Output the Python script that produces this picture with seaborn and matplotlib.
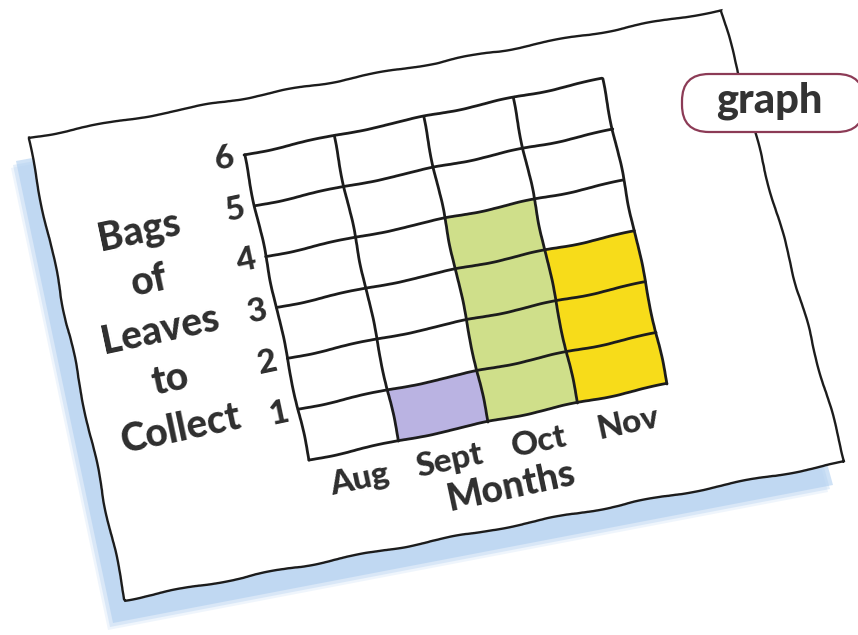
import numpy as np
import matplotlib
matplotlib.use("Agg")
import matplotlib.pyplot as plt
from matplotlib.patches import Polygon, FancyBboxPatch
from matplotlib.transforms import Affine2D
import seaborn as sns

# data
months = ["Aug", "Sept", "Oct", "Nov"]
bags = [0, 1, 4, 3]
bar_colors = ["#ffffff", "#bab3e2", "#cfdf8a", "#f7dc1a"]
y_ticks = [1, 2, 3, 4, 5, 6]
y_label_lines = ["Bags", "of", "Leaves", "to", "Collect"]
x_title = "Months"
tag_text = "graph"

sns.set_style("white")
plt.rcParams["font.family"] = ["Lato", "DejaVu Sans"]

ink = "#1c1c1c"
text_col = "#2e2e2e"
tilt = 12  # the card is drawn turned a little

fig = plt.figure(figsize=(8.58, 6.35), dpi=100)

# paper card behind the chart, in pixel coordinates
bg = fig.add_axes([0, 0, 1, 1])
bg.set_xlim(0, 858)
bg.set_ylim(635, 0)
bg.axis("off")

card = np.array([[28, 138], [721, 10], [845, 462], [125, 600]])
for off, a in [((-17, 30), 0.2), ((-15, 27), 0.35), ((-12, 23), 0.6)]:
    bg.add_patch(Polygon(card + np.array(off), closed=True, fc="#b0cff0",
                         ec="none", alpha=a))
paper = Polygon(card, closed=True, fc="white", ec=ink, lw=1.7)
paper.set_sketch_params(1.0, 120, 3)
bg.add_patch(paper)

tag = FancyBboxPatch((682, 74), 182, 58, boxstyle="round,pad=0,rounding_size=27",
                     fc="white", ec="#8c3b56", lw=1.6)
bg.add_patch(tag)
bg.text(769, 101, tag_text, ha="center", va="center", fontsize=30,
        fontweight="black", color="#333333")

# the bar chart on a grid
ax = fig.add_axes([0.3176, 0.330, 0.4266, 0.4913])
sns.barplot(x=months, y=bags, hue=months, palette=bar_colors, legend=False,
            width=1, saturation=1, edgecolor="none", ax=ax)
n = len(months)
top = max(y_ticks)
ax.set_xlim(-0.5, n - 0.5)
ax.set_ylim(0, top)
ax.axis("off")

for y in range(0, top + 1):
    ln, = ax.plot([-0.5, n - 0.5], [y, y], color=ink, lw=2.0)
    ln.set_sketch_params(0.8, 120, 3)
for x in np.arange(n + 1) - 0.5:
    ln, = ax.plot([x, x], [0, top], color=ink, lw=2.0)
    ln.set_sketch_params(0.8, 120, 3)

lab = dict(ha="center", va="center", fontweight="black", color=text_col,
           rotation=tilt, rotation_mode="anchor")
for y in y_ticks:
    ax.text(-0.72, y, str(y), fontsize=24, **lab)
for i, m in enumerate(months):
    ax.text(i, -0.58, m, fontsize=24, **lab)
ax.text(1.6, -1.3, x_title, fontsize=27, **lab)
ax.text(-1.8, 3.04, "\n".join(y_label_lines), fontsize=28, linespacing=1.45,
        multialignment="center", **lab)

# turn everything in the chart around its centre
pos = ax.get_position()
cx = (pos.x0 + pos.width / 2) * fig.bbox.width
cy = (pos.y0 + pos.height / 2) * fig.bbox.height
rot = Affine2D().rotate_deg_around(cx, cy, tilt)
for art in list(ax.patches) + list(ax.lines) + list(ax.texts):
    art.set_transform(ax.transData + rot)
    art.set_clip_on(False)

fig.savefig("out.png", dpi=100)
